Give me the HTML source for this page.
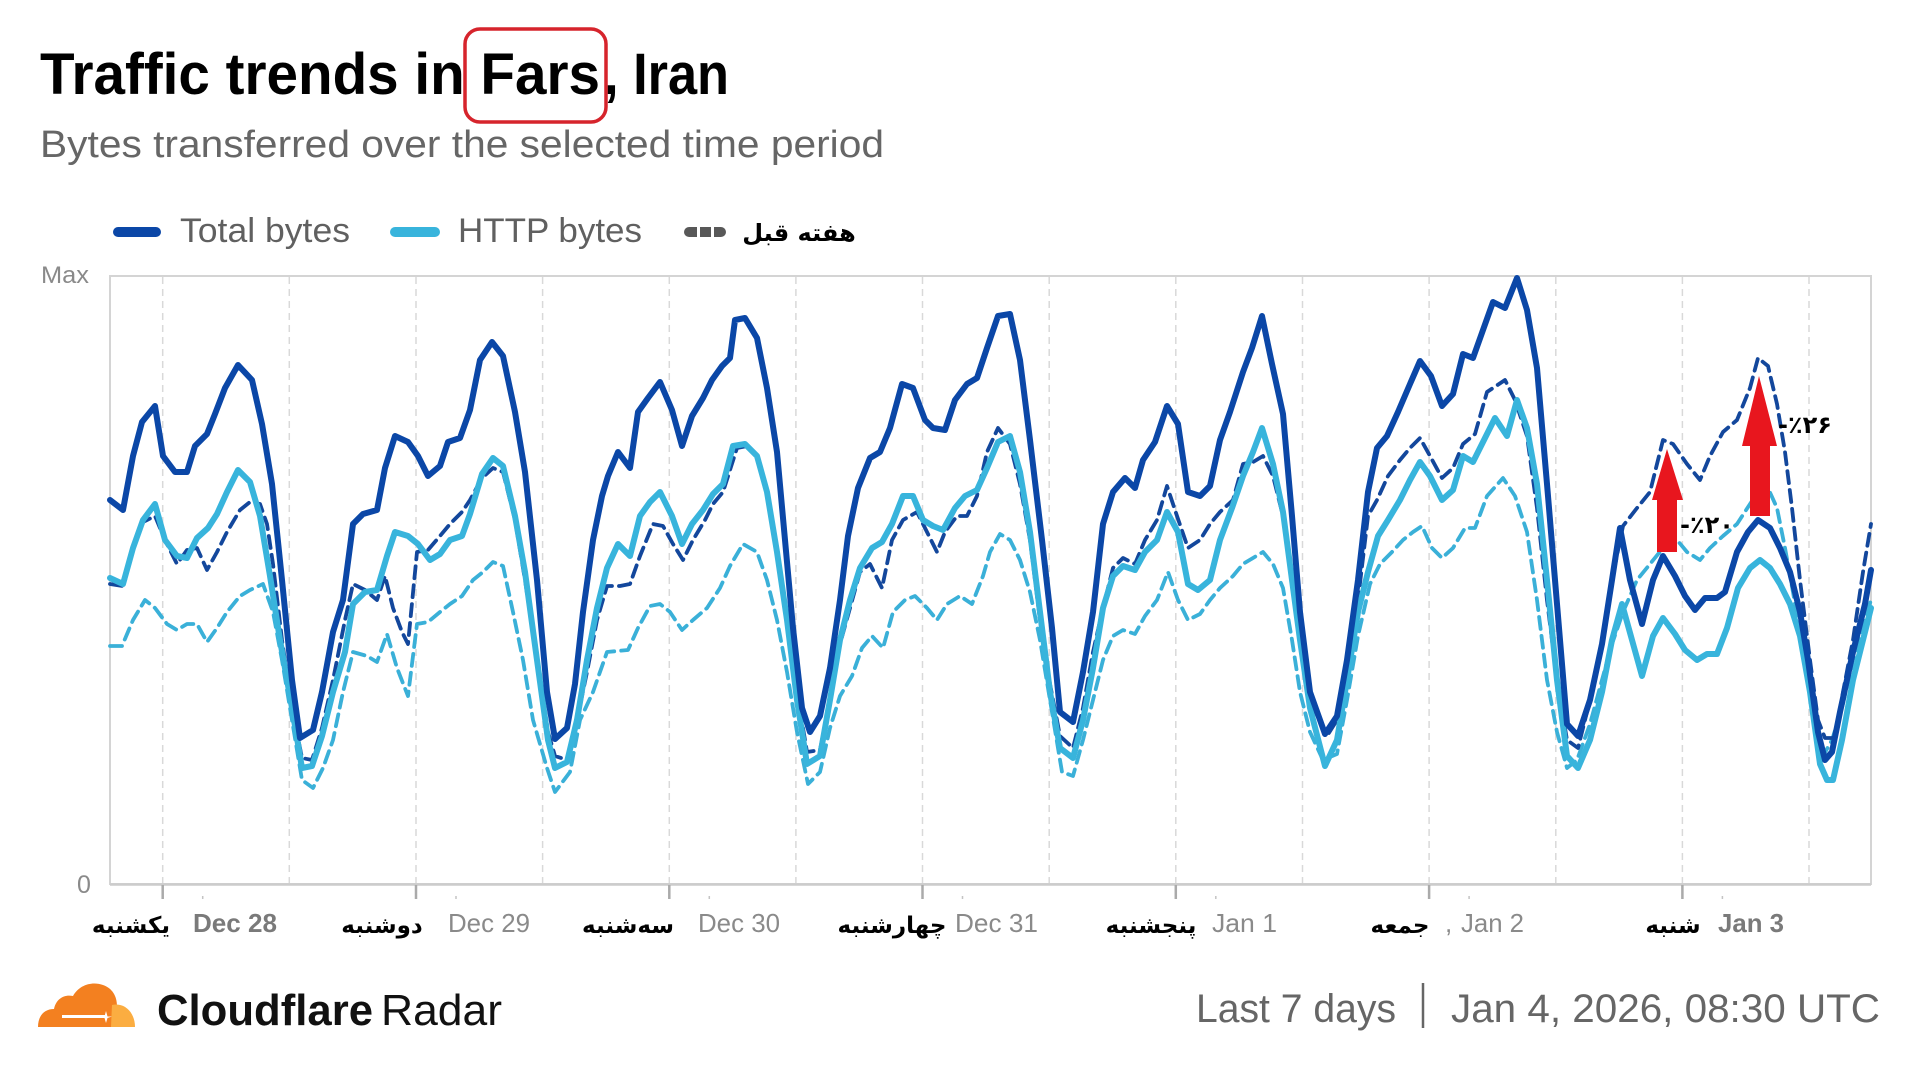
<!DOCTYPE html>
<html><head><meta charset="utf-8"><style>
html,body{margin:0;padding:0;background:#fff;}
svg{display:block;}
.lat{font-family:"Liberation Sans",Arial,sans-serif;}
.fa{font-family:"DejaVu Sans","Liberation Sans",sans-serif;font-weight:bold;}
</style></head><body>
<svg width="1920" height="1070" viewBox="0 0 1920 1070" xmlns="http://www.w3.org/2000/svg">
<rect x="0" y="0" width="1920" height="1070" fill="#fff"/>
<!-- Title -->
<text class="lat" x="40" y="94" font-size="58" font-weight="bold" fill="#000" textLength="560" lengthAdjust="spacingAndGlyphs">Traffic trends in Fars</text>
<text class="lat" x="604" y="94" font-size="58" font-weight="bold" fill="#000" textLength="125" lengthAdjust="spacingAndGlyphs">, Iran</text>
<rect x="465" y="29" width="141" height="93" rx="15" ry="15" fill="none" stroke="#d6242c" stroke-width="3.5"/>
<text class="lat" x="40" y="157" font-size="38" fill="#666" textLength="844" lengthAdjust="spacingAndGlyphs">Bytes transferred over the selected time period</text>

<!-- Legend -->
<line x1="118" y1="232" x2="156" y2="232" stroke="#0b47a7" stroke-width="10" stroke-linecap="round"/>
<text class="lat" x="180" y="242" font-size="34" fill="#606060" textLength="170" lengthAdjust="spacingAndGlyphs">Total bytes</text>
<line x1="395" y1="232" x2="435" y2="232" stroke="#38b4dc" stroke-width="10" stroke-linecap="round"/>
<text class="lat" x="458" y="242" font-size="34" fill="#606060" textLength="184" lengthAdjust="spacingAndGlyphs">HTTP bytes</text>
<path d="M689,227 H697 V237 H689 A5,5 0 0 1 689,227 Z" fill="#585858"/>
<rect x="700" y="227" width="11" height="10" fill="#585858"/>
<path d="M714,227 H721 A5,5 0 0 1 721,237 H714 Z" fill="#585858"/>
<text class="fa" x="799" y="241" font-size="24" fill="#000" text-anchor="middle">هفته قبل</text>

<!-- Axis labels -->
<text class="lat" x="41" y="283" font-size="24" fill="#8a8a8a" textLength="48" lengthAdjust="spacingAndGlyphs">Max</text>
<text class="lat" x="77" y="893" font-size="25" fill="#8a8a8a">0</text>

<!-- Grid -->
<g stroke="#d9d9d9" stroke-width="1.5" stroke-dasharray="7 5">
<line x1="162.7" y1="277" x2="162.7" y2="883"/>
<line x1="289.3" y1="277" x2="289.3" y2="883"/>
<line x1="416" y1="277" x2="416" y2="883"/>
<line x1="542.6" y1="277" x2="542.6" y2="883"/>
<line x1="669.3" y1="277" x2="669.3" y2="883"/>
<line x1="795.9" y1="277" x2="795.9" y2="883"/>
<line x1="922.5" y1="277" x2="922.5" y2="883"/>
<line x1="1049.2" y1="277" x2="1049.2" y2="883"/>
<line x1="1175.8" y1="277" x2="1175.8" y2="883"/>
<line x1="1302.5" y1="277" x2="1302.5" y2="883"/>
<line x1="1429.1" y1="277" x2="1429.1" y2="883"/>
<line x1="1555.8" y1="277" x2="1555.8" y2="883"/>
<line x1="1682.4" y1="277" x2="1682.4" y2="883"/>
<line x1="1809" y1="277" x2="1809" y2="883"/>
</g>
<rect x="110" y="276" width="1761" height="608" fill="none" stroke="#d4d4d4" stroke-width="2"/>
<line x1="110" y1="884.5" x2="1871" y2="884.5" stroke="#cccccc" stroke-width="2.5"/>
<!-- ticks -->
<g stroke="#aaaaaa" stroke-width="2.5">
<line x1="162.7" y1="885" x2="162.7" y2="899"/>
<line x1="416" y1="885" x2="416" y2="899"/>
<line x1="669.3" y1="885" x2="669.3" y2="899"/>
<line x1="922.5" y1="885" x2="922.5" y2="899"/>
<line x1="1175.8" y1="885" x2="1175.8" y2="899"/>
<line x1="1429.1" y1="885" x2="1429.1" y2="899"/>
<line x1="1682.4" y1="885" x2="1682.4" y2="899"/>
</g>
<g stroke="#c4c4c4" stroke-width="1.5">
<line x1="202.7" y1="896" x2="202.7" y2="899"/>
<line x1="456" y1="896" x2="456" y2="899"/>
<line x1="709.3" y1="896" x2="709.3" y2="899"/>
<line x1="962.5" y1="896" x2="962.5" y2="899"/>
<line x1="1215.8" y1="896" x2="1215.8" y2="899"/>
<line x1="1469.1" y1="896" x2="1469.1" y2="899"/>
<line x1="1722.4" y1="896" x2="1722.4" y2="899"/>
</g>

<!-- x labels -->
<g class="fa" font-size="23" fill="#000" text-anchor="middle">
<text x="131" y="933">یکشنبه</text>
<text x="382" y="933">دوشنبه</text>
<text x="628" y="933">سه‌شنبه</text>
<text x="892" y="933">چهارشنبه</text>
<text x="1151" y="933">پنجشنبه</text>
<text x="1400" y="933">جمعه</text>
<text x="1673" y="933">شنبه</text>
</g>
<g class="lat" font-size="26" fill="#8a8a8a">
<text x="193" y="932" font-weight="bold" fill="#7a7a7a" textLength="84" lengthAdjust="spacingAndGlyphs">Dec 28</text>
<text x="448" y="932" textLength="82" lengthAdjust="spacingAndGlyphs">Dec 29</text>
<text x="698" y="932" textLength="82" lengthAdjust="spacingAndGlyphs">Dec 30</text>
<text x="955" y="932" textLength="83" lengthAdjust="spacingAndGlyphs">Dec 31</text>
<text x="1212" y="932" textLength="65" lengthAdjust="spacingAndGlyphs">Jan 1</text>
<text x="1445" y="932">,</text>
<text x="1461" y="932" textLength="63" lengthAdjust="spacingAndGlyphs">Jan 2</text>
<text x="1718" y="932" font-weight="bold" fill="#7a7a7a" textLength="66" lengthAdjust="spacingAndGlyphs">Jan 3</text>
</g>

<!-- Series -->
<g fill="none" stroke-linejoin="round" stroke-linecap="round">
<polyline stroke="#3ab0d8" stroke-width="3.8" stroke-dasharray="12 7" points="110,646 122,646 133,620 145,600 155,608 167,624 177,630 187,624 197,624 207,642 217,628 227,612 240,596 250,590 263,584 273,612 282,660 292,720 302,780 313,788 323,768 333,740 343,692 353,652 367,656 377,662 387,634 397,668 408,696 417,624 428,622 440,612 450,604 462,596 473,580 483,572 493,562 503,566 513,612 523,660 533,720 547,768 555,792 570,772 580,720 593,692 607,652 628,650 638,628 650,606 660,604 670,612 682,630 693,620 707,608 720,588 730,566 743,544 757,552 767,580 777,620 787,672 797,732 808,784 820,772 830,728 840,696 852,676 862,648 872,636 883,648 893,612 905,600 915,596 927,608 937,620 947,604 960,596 972,604 983,576 990,552 1000,534 1010,540 1020,560 1030,592 1040,640 1050,700 1062,772 1073,776 1083,740 1093,700 1103,660 1113,636 1123,630 1135,634 1145,616 1157,600 1168,572 1178,600 1188,620 1200,614 1210,600 1220,588 1233,576 1243,564 1253,558 1263,552 1273,564 1283,588 1292,640 1300,692 1310,732 1323,760 1337,754 1347,700 1358,636 1370,584 1380,564 1392,552 1403,540 1413,532 1422,526 1432,548 1442,558 1453,548 1465,528 1475,528 1487,496 1503,478 1515,496 1527,532 1537,600 1547,680 1557,732 1567,768 1577,760 1590,724 1602,680 1612,644 1623,612 1637,580 1650,564 1663,548 1677,540 1687,552 1700,560 1710,548 1723,536 1737,524 1750,504 1758,492 1768,488 1777,508 1785,548 1793,592 1803,652 1813,708 1823,756 1832,740 1842,708 1853,660 1865,620 1871,600"/>
<polyline stroke="#13479c" stroke-width="3.8" stroke-dasharray="12 7" points="110,584 123,586 133,548 143,522 155,516 165,540 177,564 187,550 197,548 207,570 217,552 227,532 240,510 250,502 260,504 267,524 273,564 282,640 292,708 302,758 312,760 322,728 333,680 345,620 353,584 365,590 377,600 385,576 393,608 402,632 408,644 417,552 428,550 440,536 450,524 462,512 470,500 482,478 493,468 503,472 515,520 525,580 537,660 548,732 555,756 567,760 577,720 587,672 597,620 607,586 620,586 630,584 640,556 653,524 663,526 673,544 683,560 693,540 705,520 713,504 723,492 737,448 747,446 757,456 767,492 777,548 787,620 797,692 807,752 820,750 830,700 840,644 850,608 860,572 870,564 882,588 892,540 903,520 917,512 927,532 937,552 945,532 957,516 967,516 977,496 987,452 998,428 1010,444 1020,484 1030,540 1040,620 1050,684 1060,736 1073,748 1083,708 1093,652 1103,608 1113,568 1123,558 1135,564 1145,540 1157,520 1167,486 1177,516 1188,548 1200,540 1210,524 1220,512 1233,500 1243,464 1253,462 1263,456 1273,476 1283,516 1292,580 1300,640 1310,700 1327,736 1337,720 1347,672 1358,600 1368,516 1377,500 1388,476 1400,460 1410,448 1420,438 1430,456 1442,478 1453,468 1463,444 1475,434 1487,392 1505,380 1515,400 1527,436 1537,508 1547,600 1557,680 1567,740 1578,748 1590,700 1602,640 1612,580 1623,526 1637,508 1650,492 1663,440 1673,444 1687,464 1700,480 1710,456 1723,432 1737,420 1750,388 1758,358 1768,366 1777,404 1785,452 1792,508 1800,580 1810,660 1818,720 1825,738 1835,738 1843,692 1853,640 1863,572 1871,524"/>
<polyline stroke="#38b4dc" stroke-width="6" points="110,578 123,584 133,548 143,520 155,504 165,540 177,556 187,558 197,538 208,528 217,514 227,492 238,470 250,482 260,516 270,576 280,640 292,708 302,768 312,766 322,736 333,692 345,652 353,604 365,592 377,590 387,556 395,532 408,536 418,544 430,560 440,554 450,540 462,536 470,514 482,474 493,458 503,466 515,516 525,572 537,660 548,740 555,768 567,762 577,720 587,660 597,608 607,568 618,544 630,556 640,516 650,502 660,492 672,516 682,544 692,524 703,510 713,494 723,484 733,446 745,444 757,456 767,492 777,552 787,620 797,700 807,764 820,756 830,700 840,640 850,600 860,568 872,548 882,542 892,524 903,496 913,496 923,520 933,526 943,530 955,508 965,496 977,490 987,468 998,442 1010,436 1020,472 1030,532 1040,612 1050,692 1060,748 1073,758 1083,720 1093,668 1103,608 1113,576 1123,566 1135,570 1145,552 1157,540 1167,512 1178,532 1188,584 1198,590 1210,580 1220,540 1232,508 1243,476 1253,452 1262,428 1273,464 1283,512 1292,580 1300,640 1310,708 1325,766 1337,740 1347,680 1358,612 1368,572 1378,536 1388,520 1400,500 1410,480 1420,462 1430,476 1442,500 1453,490 1463,456 1473,462 1483,442 1495,418 1507,436 1517,400 1527,428 1537,484 1547,580 1557,680 1567,756 1578,768 1590,740 1602,692 1612,640 1622,604 1632,640 1642,676 1653,636 1663,618 1675,634 1685,650 1697,660 1707,654 1717,654 1727,628 1738,588 1750,568 1760,560 1770,568 1780,584 1790,604 1800,636 1810,692 1820,764 1827,780 1833,780 1842,740 1853,680 1865,632 1871,608"/>
<polyline stroke="#0b47a7" stroke-width="6" points="110,500 123,510 133,456 142,422 155,406 163,456 175,472 187,472 195,446 207,434 215,414 225,388 238,365 252,380 262,424 272,484 282,580 292,680 300,738 313,730 322,692 333,632 343,600 353,524 363,514 377,510 385,468 395,436 408,442 418,456 428,476 440,466 448,442 460,438 470,410 480,360 492,342 503,356 515,412 525,472 537,580 547,692 555,739 567,728 575,684 583,612 593,540 602,496 608,476 618,452 630,468 638,412 648,398 660,382 672,410 682,446 692,416 703,398 712,380 722,366 730,358 735,320 745,318 757,338 767,388 777,452 785,540 793,628 802,708 810,732 820,716 830,668 840,600 848,536 858,488 870,458 880,452 890,428 902,384 913,388 925,420 933,428 945,430 955,400 967,384 977,378 987,348 998,316 1010,314 1020,360 1030,440 1042,540 1052,628 1060,712 1073,722 1083,672 1093,612 1103,524 1113,492 1125,478 1135,488 1143,460 1155,442 1167,406 1178,424 1188,492 1200,496 1210,486 1220,440 1230,412 1243,372 1252,348 1262,316 1272,364 1283,414 1292,516 1300,612 1310,692 1325,734 1337,716 1347,660 1358,580 1368,492 1377,448 1387,436 1398,412 1410,384 1420,361 1431,376 1442,406 1453,394 1463,354 1473,358 1483,330 1493,302 1505,308 1517,278 1527,310 1537,368 1547,484 1557,604 1567,724 1578,736 1590,700 1602,644 1612,580 1620,528 1630,580 1642,624 1653,580 1663,556 1675,576 1685,596 1695,610 1705,598 1717,598 1725,592 1737,552 1748,532 1758,520 1770,528 1780,548 1790,572 1800,612 1808,660 1818,732 1825,760 1832,752 1840,712 1853,652 1865,604 1871,570"/>
</g>

<!-- Red arrows -->
<polygon points="1667,449 1683,500 1677,500 1677,552 1657,552 1657,500 1652,500" fill="#e8161e"/>
<polygon points="1759,376 1777,446 1770,446 1770,516 1750,516 1750,446 1742,446" fill="#e8161e"/>
<text class="fa" x="1680" y="533" font-size="24" fill="#000">-٪۲۰</text>
<text class="fa" x="1778" y="433" font-size="24" fill="#000">-٪۲۶</text>

<!-- Footer logo -->
<path d="M38,1027 C38,1016 44,1009 54,1009 C56,999 64,994 73,996 C79,985 92,981 103,985 C112,988 117,996 117,1006 L119,1027 Z" fill="#f38020"/>
<path d="M111,1027 L112,1005 C124,1002 135,1012 135,1027 Z" fill="#fbad41"/>
<rect x="62" y="1015" width="44" height="3" fill="#fff"/>
<path d="M106,1011 L107.5,1016.5 L112,1016.5 L107.5,1018 L106,1023 L104.5,1018 L100,1016.5 L104.5,1016.5 Z" fill="#fff"/>
<text class="lat" x="157" y="1025" font-size="44" font-weight="bold" fill="#111" textLength="216" lengthAdjust="spacingAndGlyphs">Cloudflare</text>
<text class="lat" x="381" y="1025" font-size="44" fill="#111" textLength="121" lengthAdjust="spacingAndGlyphs">Radar</text>

<text class="lat" x="1196" y="1022" font-size="40" fill="#666" textLength="200" lengthAdjust="spacingAndGlyphs">Last 7 days</text>
<line x1="1423" y1="983" x2="1423" y2="1028" stroke="#666" stroke-width="2.5"/>
<text class="lat" x="1451" y="1022" font-size="40" fill="#666" textLength="429" lengthAdjust="spacingAndGlyphs">Jan 4, 2026, 08:30 UTC</text>
</svg>
</body></html>
